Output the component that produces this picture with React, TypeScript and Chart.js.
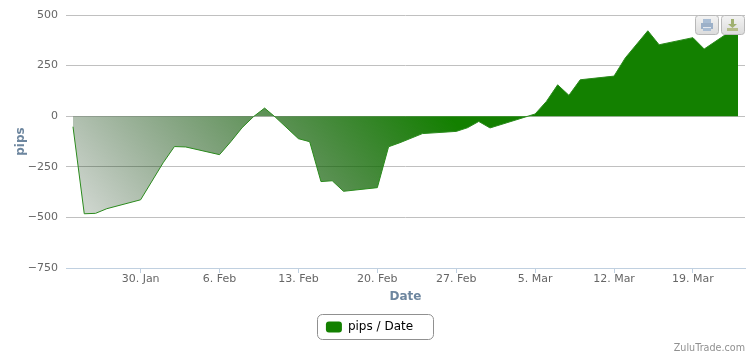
import React, { useEffect, useRef } from "react";
import { Chart, registerables } from "chart.js";

Chart.register(...registerables);

const dates = [
  "2012-01-24", "2012-01-25", "2012-01-26", "2012-01-27", "2012-01-30", "2012-02-01", "2012-02-02", "2012-02-03",
  "2012-02-06", "2012-02-07", "2012-02-08", "2012-02-09", "2012-02-10", "2012-02-11", "2012-02-13", "2012-02-14",
  "2012-02-15", "2012-02-16", "2012-02-17", "2012-02-20", "2012-02-21", "2012-02-22", "2012-02-24", "2012-02-27",
  "2012-02-28", "2012-02-29", "2012-03-01", "2012-03-05", "2012-03-06", "2012-03-07", "2012-03-08", "2012-03-09",
  "2012-03-12", "2012-03-13", "2012-03-15", "2012-03-16", "2012-03-19", "2012-03-20", "2012-03-22", "2012-03-23",
];
const pips = [
  -52, -482, -480, -457, -413, -230, -150, -152,
  -190, -126, -57, -3, 40, -7, -111, -126,
  -323, -319, -371, -353, -151, -131, -86, -75,
  -57, -26, -58, 11, 73, 155, 103, 180,
  198, 288, 422, 353, 388, 332, 407, 408,
];
const xTickDates = ["2012-01-30", "2012-02-06", "2012-02-13", "2012-02-20", "2012-02-27", "2012-03-05", "2012-03-12", "2012-03-19"];
const xTickLabels = ["30. Jan", "6. Feb", "13. Feb", "20. Feb", "27. Feb", "5. Mar", "12. Mar", "19. Mar"];
const yTicks = [-750, -500, -250, 0, 250, 500];
const seriesName = "pips / Date";
const credit = "ZuluTrade.com";

const FONT = "'DejaVu Sans'";
const GREEN = "#138000";
const day = 86400000;
const ms = (s: string) => Date.parse(s + "T00:00:00Z");

const decorations = {
  id: "decorations",
  afterLayout(chart: any) {
    chart.legend.left -= 3;
    chart.legend.right -= 3;
  },
  afterDraw(chart: any) {
    const { ctx, legend } = chart;
    ctx.save();
    // legend frame
    ctx.strokeStyle = "#909090";
    ctx.lineWidth = 1;
    ctx.beginPath();
    ctx.roundRect(Math.round(legend.left + legend.width / 2) - 52.5, legend.top + 0.5, 116, 25, 5);
    ctx.stroke();
    // credit
    ctx.fillStyle = "#909090";
    ctx.font = `9.6px ${FONT}`;
    ctx.textAlign = "right";
    ctx.textBaseline = "alphabetic";
    ctx.fillText(credit, 745, 351);
    // export buttons
    for (const bx of [695.5, 721.5]) {
      const g = ctx.createLinearGradient(0, 15, 0, 34);
      g.addColorStop(0, "#f4f4f4");
      g.addColorStop(1, "#dcdcdc");
      ctx.fillStyle = g;
      ctx.strokeStyle = "#b8b8b8";
      ctx.beginPath();
      ctx.roundRect(bx, 15.5, 23, 19, 3);
      ctx.fill();
      ctx.stroke();
    }
    // print glyph
    ctx.fillStyle = "#a9bdd4";
    ctx.fillRect(703, 19, 8, 4);
    ctx.fillStyle = "#9cb0c8";
    ctx.fillRect(701, 23, 12, 6);
    ctx.fillStyle = "#e4e8ee";
    ctx.fillRect(703, 27, 8, 1);
    ctx.fillStyle = "#a9bdd4";
    ctx.fillRect(703, 28, 8, 3);
    // download glyph
    ctx.fillStyle = "#a0b070";
    ctx.fillRect(731, 19, 3, 5);
    ctx.beginPath();
    ctx.moveTo(728, 24);
    ctx.lineTo(737, 24);
    ctx.lineTo(732.5, 28);
    ctx.closePath();
    ctx.fill();
    ctx.fillStyle = "#b4bc88";
    ctx.fillRect(727, 28, 11, 3);
    ctx.restore();
  },
};

export default function App() {
  const ref = useRef<HTMLCanvasElement>(null);
  useEffect(() => {
    const chart = new Chart(ref.current!, {
      type: "line",
      data: {
        datasets: [
          {
            label: seriesName,
            data: dates.map((d, i) => ({ x: ms(d), y: pips[i] })),
            borderColor: "#2A8A1C",
            borderWidth: 1,
            pointRadius: 0,
            tension: 0,
            fill: "origin",
            backgroundColor: (c: any) => {
              const a = c.chart.chartArea;
              if (!a) return GREEN;
              const g = c.chart.ctx.createLinearGradient(92, 212, 353, -2);
              g.addColorStop(0, "rgba(0,40,0,0.2)");
              g.addColorStop(1, "rgba(19,128,0,1)");
              return g;
            },
          },
        ],
      },
      options: {
        animation: false,
        responsive: false,
        layout: { padding: { left: 0, right: 8, top: 15, bottom: 14 } },
        scales: {
          x: {
            type: "linear",
            min: ms("2012-01-24") - 0.62 * day,
            max: ms("2012-03-23") + 0.62 * day,
            afterFit: (s: any) => { s.height = 46; },
            afterBuildTicks: (s: any) => { s.ticks = xTickDates.map((d) => ({ value: ms(d) })); },
            grid: { drawOnChartArea: false, drawTicks: true, tickLength: 5, tickColor: "#C0D0E0" },
            border: { color: "#C0D0E0" },
            ticks: {
              autoSkip: false,
              maxRotation: 0,
              padding: 0,
              color: "#666666",
              font: { family: FONT, size: 11 },
              callback: (v: any) => xTickLabels[xTickDates.findIndex((d) => ms(d) === v)] ?? "",
            },
            title: {
              display: true,
              text: "Date",
              color: "#6D869F",
              font: { family: FONT, size: 12, weight: "bold" },
              padding: { top: 1, bottom: 10 },
            },
          },
          y: {
            min: -750,
            max: 500,
            afterFit: (s: any) => { s.width = 66; },
            afterBuildTicks: (s: any) => { s.ticks = yTicks.map((value) => ({ value })); },
            grid: { color: "#C0C0C0", drawTicks: false },
            border: { display: false },
            ticks: {
              padding: 8,
              color: "#666666",
              font: { family: FONT, size: 11 },
              callback: (v: any) => String(v).replace("-", "\u2212"),
            },
            title: {
              display: true,
              text: "pips",
              color: "#6D869F",
              font: { family: FONT, size: 12, weight: "bold" },
              padding: { top: 14, bottom: 3 },
            },
          },
        },
        plugins: {
          tooltip: { enabled: false },
          legend: {
            display: true,
            position: "bottom",
            labels: {
              boxWidth: 16,
              boxHeight: 11,
              padding: 7,
              color: "#4A5A6A",
              useBorderRadius: true,
              borderRadius: 3,
              font: { family: FONT, size: 12 },
              generateLabels: () => [
                {
                  text: seriesName,
                  fillStyle: GREEN,
                  strokeStyle: GREEN,
                  lineWidth: 0,
                  hidden: false,
                  datasetIndex: 0,
                  borderRadius: 3,
                },
              ],
            },
          },
        },
      },
      plugins: [decorations],
    } as any);
    return () => chart.destroy();
  }, []);
  return (
    <div style={{ position: "fixed", left: 0, top: 0, width: 753, height: 357, background: "#fff" }}>
      <canvas ref={ref} width={753} height={357} style={{ display: "block" }} />
    </div>
  );
}
